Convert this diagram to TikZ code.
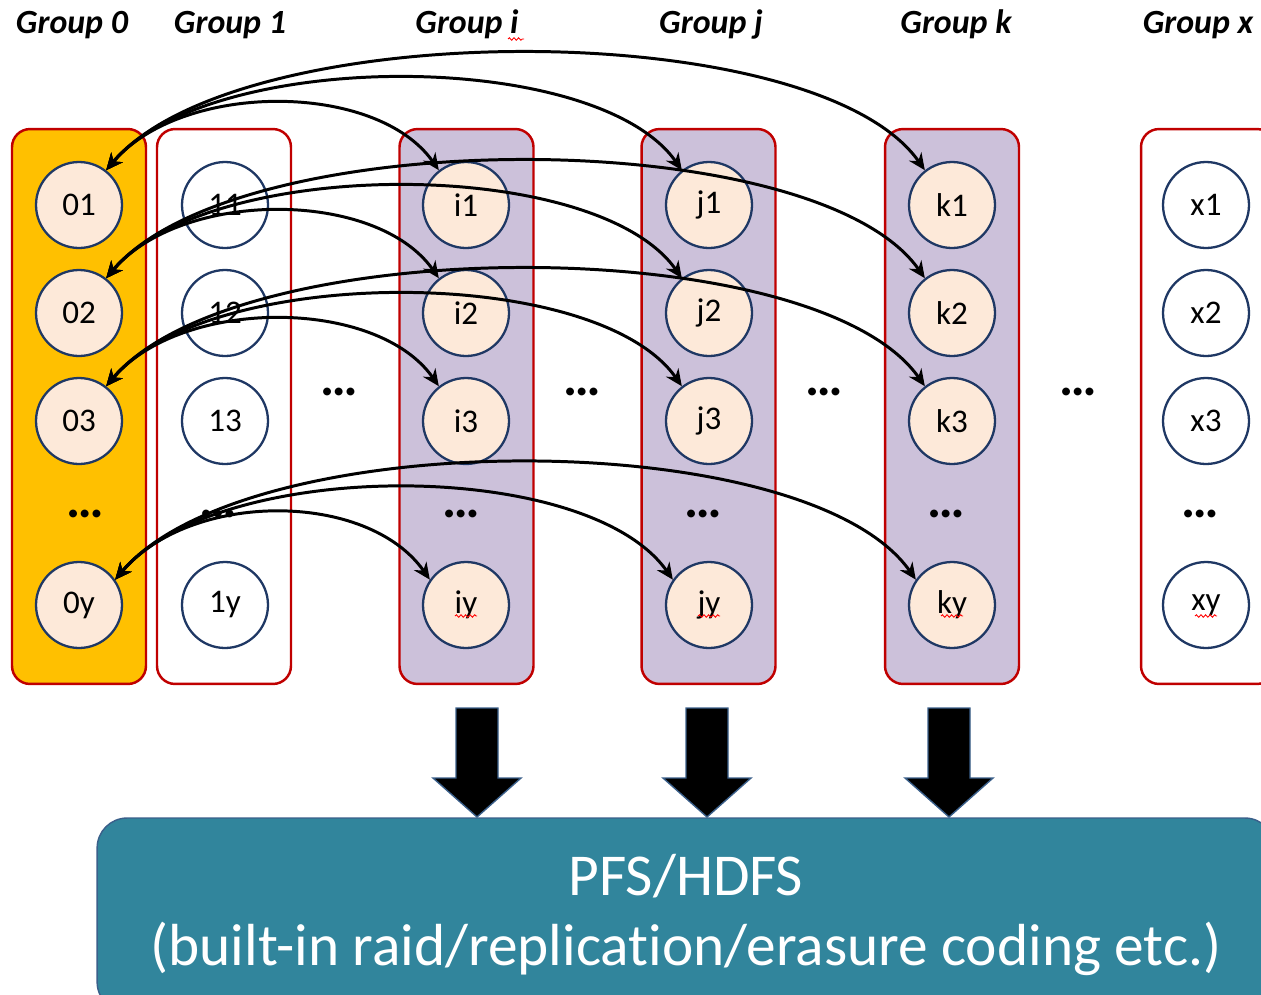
\documentclass[tikz,border=0pt]{standalone}
\usepackage{fontspec}
\setmainfont{Carlito}[Ligatures={NoCommon,NoContextual}]
\usetikzlibrary{shapes.geometric,arrows.meta,calc,decorations.pathmorphing}

\definecolor{grouporange}{HTML}{FFC000}
\definecolor{grouplilac}{HTML}{CCC1DA}
\definecolor{groupred}{HTML}{C00000}
\definecolor{cellfill}{HTML}{FDE9D9}
\definecolor{cellnavy}{HTML}{1F3864}
\definecolor{fsteal}{HTML}{31859C}
\definecolor{fsedge}{HTML}{3A5F8A}

% one curved two-headed link between cells; #3 is the rise of the arc
\newcommand\linkarc[3]{%
  \draw[link] (#1) .. controls +({1.12*#3},{-1.33*#3}) and +({-0.93*#3},{-1.33*#3}) .. (#2);}

\begin{document}
\begin{tikzpicture}[x=0.02cm,y=-0.02cm,
  groupbox/.style={draw=groupred, line width=1.4pt, rounded corners=0.36cm,
    minimum width=2.68cm, minimum height=11.1cm, inner sep=0pt},
  cell/.style={circle, draw=cellnavy, line width=1.3pt, minimum size=1.72cm,
    inner sep=0pt, font=\fontsize{18.8}{22}\selectfont},
  hot/.style={cell, fill=cellfill},
  cold/.style={cell, fill=white},
  header/.style={font=\fontsize{19.3}{22}\selectfont\bfseries\itshape, anchor=base},
  dots/.style={font=\fontsize{30}{32}\selectfont\bfseries, inner sep=0pt, anchor=base},
  link/.style={line width=1.7pt, {Stealth[length=9.5pt,width=8.5pt,inset=3pt]}-{Stealth[length=9.5pt,width=8.5pt,inset=3pt]}},
  squig/.style={draw=red, line width=0.5pt, decorate,
    decoration={snake, amplitude=0.7pt, segment length=2.6pt}},
  blockarrow/.style={fill=black, draw=fsedge, line width=0.8pt, line join=miter},
  fsbox/.style={fill=fsteal, draw=fsedge, line width=0.8pt, rounded corners=0.6cm,
    minimum width=23.56cm, minimum height=3.88cm, text=white, align=center,
    font=\fontsize{33.8}{40}\selectfont}]

\useasboundingbox (0,0) rectangle (1261,994);

% ---- group headers
\node[header] (h0) at (72,33)   {Group 0};
\node[header] (h1) at (230,33)  {Group 1};
\node[header] (hi) at (467,33)  {Group i};
\node[header] (hj) at (711,33)  {Group j};
\node[header] (hk) at (956,33)  {Group k};
\node[header] (hx) at (1198,33) {Group x};
\draw[squig] (508,39) -- (524,39);

% ---- group columns
\node[groupbox, fill=grouporange] (g0) at (79,406.5)   {};
\node[groupbox, fill=white]       (g1) at (224,406.5)  {};
\node[groupbox, fill=grouplilac]  (gi) at (466.5,406.5) {};
\node[groupbox, fill=grouplilac]  (gj) at (708.5,406.5) {};
\node[groupbox, fill=grouplilac]  (gk) at (952,406.5)  {};
\node[groupbox, fill=white]       (gx) at (1208,406.5) {};

% ---- cells
\foreach \c/\x/\st in {0/79/hot, 1/225/cold, i/466/hot, j/709/hot, k/952/hot, x/1206/cold}{
  \node[\st] (n\c1) at (\x,205) {\c1};
  \node[\st] (n\c2) at (\x,313) {\c2};
  \node[\st] (n\c3) at (\x,421) {\c3};
  \node[\st] (n\c y) at (\x,605) {\c y};
}
\foreach \c in {i,j,k,x}{
  \draw[squig] ($(n\c y.center)+(-11,11)$) -- ++(22,0);
}

% ---- ellipses
\foreach \x in {85,218,461,703,946,1200}{
  \node[dots] at (\x,517) {…};
}
\foreach \x in {339,582,824,1078}{
  \node[dots] at (\x,395) {…};
}

% ---- links from group 0 to groups i, j, k
\foreach \r in {1,2,3}{
  \linkarc{n0\r.52}{ni\r.128}{67}
  \linkarc{n0\r.52}{nj\r.128}{92}
  \linkarc{n0\r.52}{nk\r.128}{117}
}
\linkarc{n0y.35}{niy.145}{67}
\linkarc{n0y.35}{njy.145}{92}
\linkarc{n0y.35}{nky.145}{117}

% ---- storage layer
\node[fsbox] (pfs) at (686,915) {PFS/HDFS\\(built-in raid/replication/erasure coding etc.)};

% ---- block arrows down to the storage layer
\foreach \g/\cx in {gi/477, gj/707, gk/949}{
  \coordinate (t\g) at (\cx,817);
  \path[blockarrow] (t\g) -- ++(-44,-39) -- ++(23,0) -- ++(0,-70) -- ++(42,0)
    -- ++(0,70) -- ++(23,0) -- cycle;
}
\end{tikzpicture}
\end{document}
